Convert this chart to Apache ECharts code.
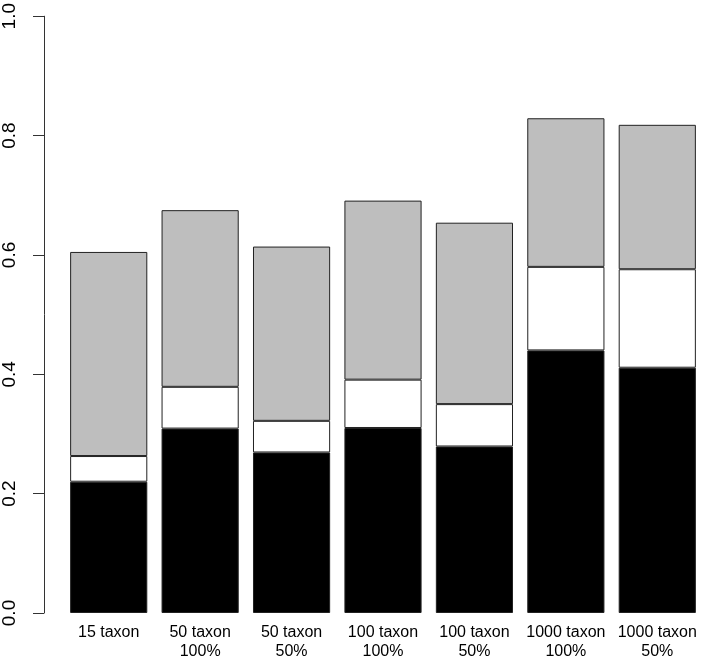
<!DOCTYPE html>
<html>
<head>
<meta charset="utf-8">
<script src="https://cdn.jsdelivr.net/npm/echarts@6/dist/echarts.min.js"></script>
<style>html,body{margin:0;padding:0;background:#fff;}#c{width:703px;height:661px;}</style>
</head>
<body>
<div id="c"></div>
<script>
const categories = ['15 taxon', '50 taxon\n100%', '50 taxon\n50%', '100 taxon\n100%', '100 taxon\n50%', '1000 taxon\n100%', '1000 taxon\n50%'];
// cumulative tops of each segment
const blackTop = [0.220, 0.309, 0.269, 0.310, 0.279, 0.440, 0.411];
const whiteTop = [0.263, 0.379, 0.322, 0.391, 0.350, 0.580, 0.576];
const grayTop  = [0.605, 0.675, 0.614, 0.691, 0.654, 0.829, 0.818];
const yTicks = [0, 0.2, 0.4, 0.6, 0.8, 1.0];

const blackVals = blackTop.slice();
const whiteVals = whiteTop.map((v, i) => +(v - blackTop[i]).toFixed(4));
const grayVals = grayTop.map((v, i) => +(v - whiteTop[i]).toFixed(4));

const chart = echarts.init(document.getElementById('c'), null, {renderer: 'canvas'});
const font = 'Liberation Sans, Arial, Helvetica, sans-serif';
function seg(name, data, color) {
  return {
    name, type: 'bar', stack: 'a', data,
    barCategoryGap: '15.6%',
    itemStyle: {color, borderColor: '#222', borderWidth: 1},
    emphasis: {disabled: true},
    animation: false
  };
}
chart.setOption({
  animation: false,
  grid: {left: 61, width: 645, top: 11, bottom: 41, containLabel: false},
  xAxis: {
    type: 'category', data: categories,
    axisLine: {show: false}, axisTick: {show: false},
    axisLabel: {fontFamily: font, fontSize: 16, color: '#000', lineHeight: 19, margin: 10, interval: 0}
  },
  yAxis: {
    type: 'value', min: 0, max: 1, interval: 0.2, offset: 19,
    splitLine: {show: false},
    axisLine: {show: true, lineStyle: {color: '#333', width: 1}},
    axisTick: {show: true, length: 11, lineStyle: {color: '#333', width: 1}},
    axisLabel: {
      fontFamily: font, fontSize: 19, color: '#000', rotate: 90, margin: 25,
      formatter: v => { const t = yTicks.find(x => Math.abs(x - v) < 1e-9); return t === undefined ? '' : t.toFixed(1); }
    }
  },
  series: [
    seg('black', blackVals, '#000000'),
    seg('white', whiteVals, '#ffffff'),
    seg('gray', grayVals, '#bebebe')
  ]
});
</script>
</body>
</html>
